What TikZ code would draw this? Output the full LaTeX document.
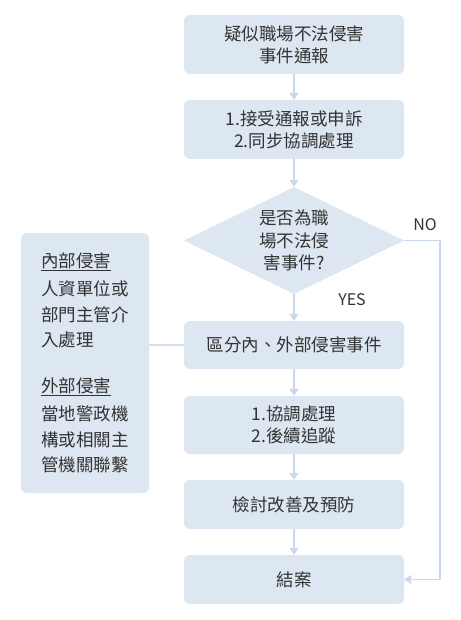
\documentclass[tikz,border=0pt]{standalone}
\usepackage{fontspec}
\setmainfont{Noto Sans CJK TC}
\usetikzlibrary{arrows.meta,shapes.geometric}
\definecolor{boxblue}{HTML}{DDE7F2}
\definecolor{lineblue}{HTML}{C9D8EA}
\definecolor{txtgray}{HTML}{333333}
\tikzset{
  stepbox/.style={rectangle,rounded corners=6pt,fill=boxblue,draw=none,
    minimum width=220pt,text=txtgray,align=center,
    font=\fontsize{17.5}{22}\selectfont},
  askbox/.style={diamond,fill=boxblue,draw=none,minimum width=220pt,
    minimum height=107pt,inner sep=0pt,aspect=2.06,text=txtgray,align=center,
    font=\fontsize{17.5}{22.5}\selectfont},
  flow/.style={draw=lineblue,line width=1.4pt,
    -{Triangle[width=9pt,length=7pt,fill=lineblue]}},
  link/.style={draw=lineblue!80!white,line width=1.4pt},
  lbl/.style={text=txtgray,font=\fontsize{16}{18}\selectfont}
}
\begin{document}
\begin{tikzpicture}[x=1pt,y=-1pt]
    \useasboundingbox (0,0) rectangle (460,620);
    \fill[white] (0,0) rectangle (460,620);

    % Flowchart boxes
    \node[stepbox,minimum height=59pt] (report) at (294,44.5) {疑似職場不法侵害\\事件通報};
    \node[stepbox,minimum height=59pt] (accept) at (294,129.5) {1.接受通報或申訴\\2.同步協調處理};
    \node[askbox] (ask) at (294,240.5) {是否為職\\場不法侵\\害事件?};
    \node[stepbox,minimum height=48pt] (split) at (294,345) {區分內、外部侵害事件};
    \node[stepbox,minimum height=58pt] (handle) at (294,425) {1.協調處理\\2.後續追蹤};
    \node[stepbox,minimum height=49pt] (review) at (294,504.5) {檢討改善及預防};
    \node[stepbox,minimum height=49pt] (close) at (294,579.5) {結案};

    % Side box
    \node[rectangle,rounded corners=6pt,fill=boxblue,minimum width=128pt,
      minimum height=260pt,text width=88pt,inner xsep=20pt,align=left,
      text=txtgray,font=\fontsize{17.5}{25.5}\selectfont] (side) at (85,363)
      {\underline{內部侵害}\\[3pt]人資單位或\\部門主管介\\入處理\\[20pt]
       \underline{外部侵害}\\[3pt]當地警政機\\構或相關主\\管機關聯繫};

    % Connectors
    \draw[flow] (report) -- (accept);
    \draw[flow] (accept) -- (ask);
    \draw[flow] (ask) -- (split);
    \draw[flow] (split) -- (handle);
    \draw[flow] (handle) -- (review);
    \draw[flow] (review) -- (close);
    \coordinate (nox) at (440,0);
    \draw[flow] (ask.east) -- (ask.east -| nox) |- (close.east);
    \draw[link] (side.east |- split.west) -- (split.west);

    % Labels
    \node[lbl] (no) at (425,225) {NO};
    \node[lbl] (yes) at (352,300) {YES};
\end{tikzpicture}
\end{document}
